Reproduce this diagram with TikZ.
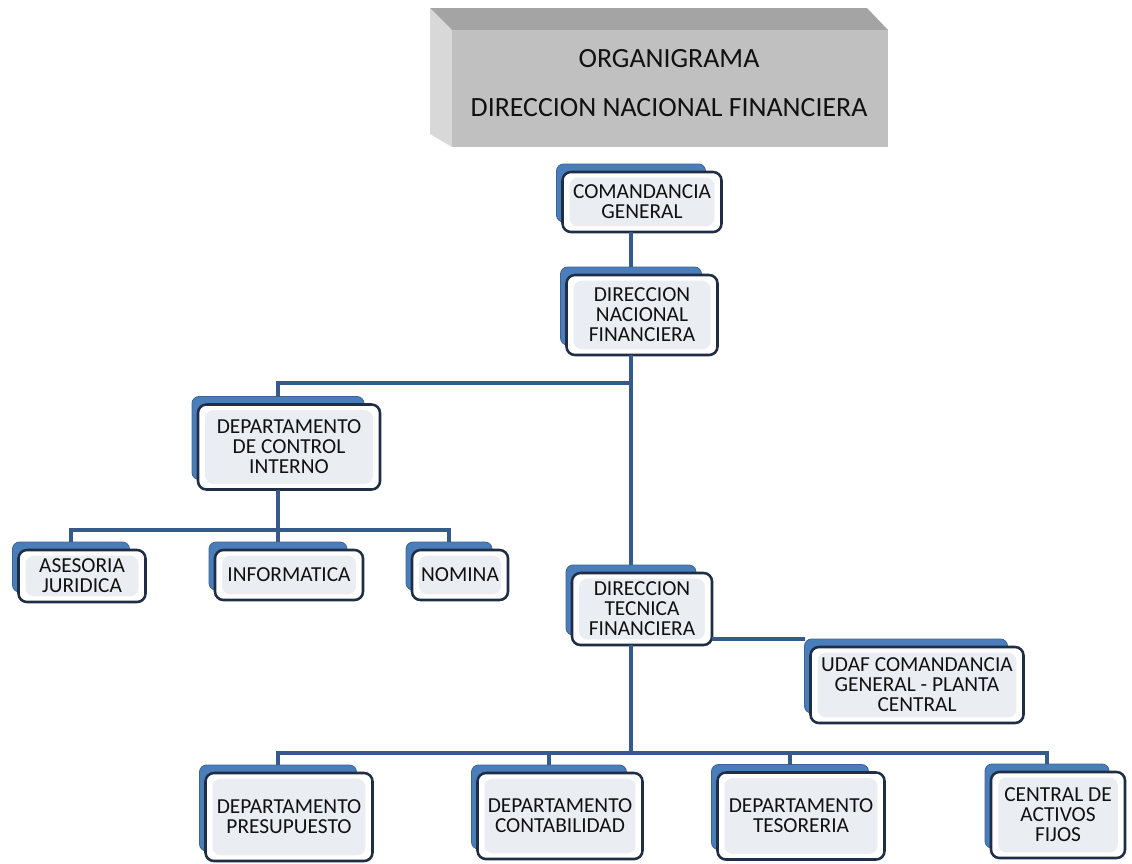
\documentclass[tikz,border=0pt]{standalone}
\usepackage{fontspec}
\setmainfont{Carlito}

\definecolor{shadeblue}{HTML}{4A7EBB}
\definecolor{linkblue}{HTML}{375A8C}
\definecolor{edgenavy}{HTML}{1F2D45}
\definecolor{facegray}{HTML}{EAEDF2}
\definecolor{textdark}{HTML}{111111}
\definecolor{titleface}{HTML}{C0C0C0}
\definecolor{titletop}{HTML}{A4A4A4}
\definecolor{titleside}{HTML}{D8D8D8}

% one unit of the chart: blue back plate + white front card
% #1 name, #2 #3 centre of the card (px), #4 width, #5 height, #6 text
\newcommand{\orgunit}[6]{%
  \node[backbox, minimum width=(#4-10)*0.025cm, minimum height=(#5-2)*0.025cm] (#1s) at (#2-11,#3-9) {};
  \node[frontbox, minimum width=#4*0.025cm, minimum height=#5*0.025cm] (#1) at (#2,#3) {#6};
}

\begin{document}
\begin{tikzpicture}[
  x=0.025cm, y=-0.025cm,
  every node/.style={font=\fontsize{15.2}{14.2}\selectfont, text=textdark},
  backbox/.style  = {rounded corners=5pt, inner sep=0pt, outer sep=0pt, fill=shadeblue, draw=shadeblue!80!black, line width=0.6pt},
  frontbox/.style = {rounded corners=6pt, align=center, inner sep=0pt, outer sep=0pt, draw=edgenavy, line width=1.8pt, fill=white,
                     path picture={\fill[facegray] ([shift={(5pt,-4pt)}]path picture bounding box.north west) rectangle ([shift={(-5pt,4pt)}]path picture bounding box.south east);}},
  link/.style     = {draw=linkblue, line width=2.2pt},
  heading/.style  = {align=center, font=\fontsize{19.8}{35}\selectfont, text=textdark},
]
  \useasboundingbox (0,0) rectangle (1132,863);

  % title block
  \fill[titleside] (430,8) -- (452,30) -- (452,147) -- (430,134) -- cycle;
  \fill[titletop]  (430,8) -- (867,8) -- (888,30) -- (452,30) -- cycle;
  \fill[titleface] (452,30) rectangle (888,147);
  \node[heading] (title) at (669,83) {ORGANIGRAMA\\DIRECCION NACIONAL FINANCIERA};

  % cards
  \orgunit{com}{642}{202}{159}{60}{COMANDANCIA\\GENERAL}
  \orgunit{dnf}{642}{315}{151}{80}{DIRECCION\\NACIONAL\\FINANCIERA}
  \orgunit{dci}{289}{447}{182}{85}{DEPARTAMENTO\\DE CONTROL\\INTERNO}
  \orgunit{ase}{82}{576}{127}{52}{ASESORIA\\JURIDICA}
  \orgunit{inf}{289}{575}{148}{50}{INFORMATICA}
  \orgunit{nom}{460}{575}{96}{50}{NOMINA}
  \orgunit{dtf}{642}{609}{140}{72}{DIRECCION\\TECNICA\\FINANCIERA}
  \orgunit{udaf}{917}{685}{213}{76}{UDAF COMANDANCIA\\GENERAL - PLANTA\\CENTRAL}
  \orgunit{pre}{289}{817}{167}{88}{DEPARTAMENTO\\PRESUPUESTO}
  \orgunit{con}{560}{816}{165}{86}{DEPARTAMENTO\\CONTABILIDAD}
  \orgunit{tes}{801}{816}{167}{87}{DEPARTAMENTO\\TESORERIA}
  \orgunit{caf}{1058}{815}{134}{86}{CENTRAL DE\\ACTIVOS\\FIJOS}

  % connectors
  \coordinate (split1) at (631,383);
  \coordinate (split2) at (278,530);
  \coordinate (split3) at (631,753);
  \draw[link] (com.south -| coms) -- (dnfs.north);
  \draw[link] (dnf.south -| dnfs) -- (dtfs.north);
  \draw[link] (split1) -| (dcis.north);
  \draw[link] (dci.south -| dcis) -- (split2);
  \draw[link] (ases.north) |- (split2) -| (noms.north);
  \draw[link] (split2) -- (infs.north);
  \draw[link] (dtf.east |- udafs.north) -- (udafs.north west);
  \draw[link] (dtf.south -| dtfs) -- (split3);
  \draw[link] (pres.north) |- (split3) -| (cafs.north);
  \draw[link] (cons.north) -- (cons.north |- split3);
  \draw[link] (tess.north) -- (tess.north |- split3);
\end{tikzpicture}
\end{document}
